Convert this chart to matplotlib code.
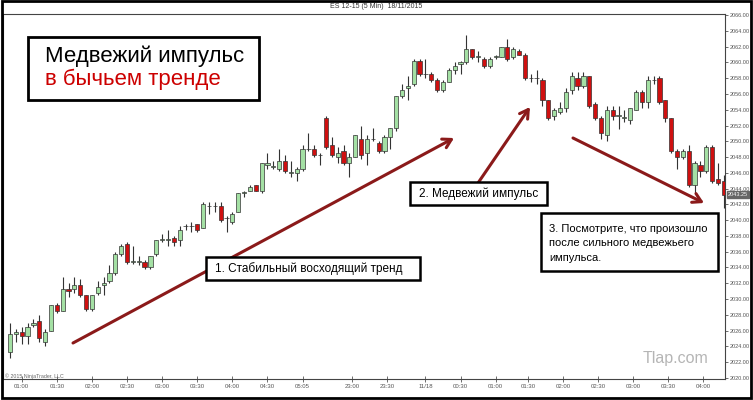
import numpy as np
import matplotlib.pyplot as plt
from matplotlib.patches import Rectangle
from matplotlib.transforms import blended_transform_factory

# ES 12-15, 5 min bars
opens = [2023.25, 2025.5, 2025.75, 2025.25, 2026.75, 2027.25, 2024.5, 2026.0, 2029.25, 2028.5,
         2031.25, 2031.25, 2031.75, 2030.5, 2028.75, 2030.75, 2031.75, 2032.25, 2033.25, 2035.75,
         2037.0, 2034.75, 2034.75, 2034.75, 2034.0, 2035.75, 2037.5, 2037.5, 2037.75, 2037.5,
         2039.25, 2039.25, 2039.5, 2039.0, 2041.75, 2041.75, 2041.75, 2040.25, 2039.75, 2041.0,
         2043.5, 2043.75, 2044.5, 2043.75, 2047.0, 2046.75, 2046.5, 2047.5, 2046.0, 2046.0,
         2046.5, 2049.0, 2049.0, 2048.25, 2053.0, 2049.5, 2048.0, 2048.75, 2047.25, 2048.0,
         2050.25, 2048.5, 2050.25, 2049.75, 2048.75, 2050.5, 2051.75, 2055.75, 2056.75, 2057.25,
         2060.25, 2058.5, 2058.5, 2057.75, 2056.5, 2057.5, 2059.0, 2059.75, 2060.0, 2061.75,
         2060.75, 2060.5, 2059.5, 2060.75, 2060.75, 2062.0, 2060.75, 2061.5, 2061.0, 2058.0,
         2058.0, 2057.75, 2055.25, 2053.25, 2053.75, 2054.25, 2056.5, 2058.0, 2057.0, 2058.25,
         2054.75, 2053.0, 2050.75, 2054.0, 2053.25, 2053.0, 2052.75, 2054.0, 2056.25, 2055.0,
         2057.75, 2058.0, 2055.25, 2053.0, 2048.75, 2048.0, 2048.75, 2044.5, 2047.0, 2046.25,
         2049.25, 2045.25, 2045.0]
highs = [2027.0, 2026.25, 2026.5, 2027.0, 2027.5, 2028.0, 2026.25, 2029.25, 2029.5, 2032.75,
         2032.0, 2032.75, 2032.5, 2030.5, 2030.5, 2032.25, 2032.75, 2034.25, 2036.0, 2037.0,
         2037.25, 2036.75, 2035.5, 2035.0, 2035.5, 2037.5, 2038.25, 2038.75, 2038.0, 2039.25,
         2039.5, 2039.75, 2039.5, 2042.25, 2042.25, 2042.25, 2042.25, 2040.5, 2041.0, 2043.5,
         2043.75, 2044.5, 2044.5, 2047.25, 2048.5, 2047.5, 2049.0, 2048.25, 2047.5, 2046.75,
         2049.5, 2051.0, 2049.5, 2048.5, 2053.25, 2050.5, 2049.25, 2049.5, 2048.5, 2050.75,
         2052.0, 2050.75, 2051.75, 2050.0, 2050.75, 2051.75, 2055.75, 2057.25, 2058.25, 2060.5,
         2060.5, 2060.5, 2058.75, 2058.0, 2057.75, 2059.25, 2060.0, 2060.25, 2063.5, 2061.75,
         2061.5, 2060.75, 2060.75, 2061.0, 2062.0, 2063.0, 2062.0, 2061.75, 2061.25, 2058.5,
         2059.0, 2058.0, 2055.25, 2054.25, 2055.0, 2056.75, 2058.75, 2058.75, 2058.75, 2058.25,
         2055.0, 2053.25, 2054.5, 2054.5, 2054.5, 2054.0, 2054.25, 2056.5, 2056.5, 2058.25,
         2058.25, 2058.25, 2055.25, 2053.0, 2049.0, 2049.0, 2049.5, 2047.5, 2047.5, 2049.5,
         2049.5, 2047.25, 2045.75]
lows = [2022.5, 2024.5, 2024.25, 2024.25, 2026.5, 2024.5, 2024.0, 2026.0, 2028.25, 2028.5,
        2030.25, 2030.75, 2030.25, 2028.5, 2028.5, 2030.5, 2030.5, 2032.0, 2033.0, 2035.5,
        2034.5, 2034.5, 2034.25, 2033.75, 2033.75, 2035.5, 2037.25, 2036.75, 2036.75, 2036.75,
        2038.75, 2038.5, 2038.5, 2039.0, 2040.75, 2041.0, 2039.75, 2038.5, 2039.5, 2041.0,
        2043.0, 2043.75, 2043.75, 2043.5, 2046.5, 2046.5, 2046.25, 2046.0, 2045.5, 2045.0,
        2046.25, 2048.75, 2048.0, 2047.0, 2049.0, 2048.0, 2047.25, 2047.0, 2045.5, 2048.0,
        2047.75, 2047.0, 2050.0, 2048.5, 2048.5, 2049.0, 2051.25, 2055.5, 2055.25, 2057.0,
        2058.25, 2058.0, 2057.5, 2056.25, 2056.25, 2057.5, 2058.5, 2058.5, 2059.75, 2060.5,
        2060.0, 2059.25, 2059.25, 2060.5, 2060.75, 2060.25, 2060.5, 2061.0, 2057.75, 2057.5,
        2057.25, 2054.5, 2052.75, 2052.75, 2053.5, 2053.75, 2056.0, 2056.5, 2056.75, 2054.25,
        2052.75, 2050.25, 2050.0, 2052.75, 2051.5, 2052.5, 2052.25, 2054.0, 2054.25, 2054.25,
        2057.25, 2054.75, 2052.5, 2048.5, 2046.5, 2047.75, 2044.25, 2043.5, 2045.5, 2046.0,
        2044.75, 2044.5, 2041.5]
closes = [2025.5, 2025.75, 2025.25, 2026.5, 2027.0, 2025.0, 2025.75, 2029.25, 2028.5, 2031.25,
          2031.0, 2031.75, 2030.5, 2028.75, 2030.5, 2031.5, 2032.0, 2033.25, 2035.75, 2036.75,
          2034.75, 2034.75, 2034.75, 2034.0, 2035.5, 2037.5, 2037.5, 2037.5, 2037.25, 2038.75,
          2039.25, 2039.25, 2038.75, 2042.0, 2041.75, 2041.75, 2040.0, 2040.25, 2040.75, 2043.5,
          2043.5, 2044.25, 2043.75, 2047.25, 2047.25, 2046.75, 2047.5, 2046.25, 2046.0, 2046.5,
          2049.0, 2049.0, 2048.25, 2048.25, 2049.25, 2048.25, 2048.5, 2047.25, 2048.0, 2050.75,
          2048.25, 2050.25, 2050.25, 2048.75, 2050.5, 2051.75, 2055.75, 2056.5, 2057.0, 2060.25,
          2058.5, 2058.5, 2057.75, 2056.5, 2057.5, 2059.0, 2059.5, 2060.0, 2061.75, 2060.75,
          2060.75, 2059.5, 2060.5, 2060.75, 2062.0, 2060.5, 2061.75, 2061.0, 2058.0, 2058.0,
          2058.0, 2055.25, 2053.0, 2054.0, 2054.25, 2056.25, 2058.25, 2057.0, 2058.25, 2054.5,
          2053.0, 2051.0, 2054.0, 2053.25, 2053.25, 2053.0, 2054.25, 2056.25, 2055.0, 2057.75,
          2057.75, 2055.0, 2053.0, 2048.75, 2048.0, 2048.75, 2044.5, 2047.25, 2046.25, 2049.25,
          2045.0, 2044.75, 2043.25]

time_ticks = [2, 8, 14, 20, 26, 32, 38, 44, 50, 58.5, 64.5, 71, 77, 83, 88.5, 94.5, 100.5, 106.5, 112.5, 118.5]
time_labels = ['01:00', '01:30', '02:00', '02:30', '03:00', '03:30', '04:00', '04:30', '05:05', '23:00',
               '23:30', '11/18', '00:30', '01:00', '01:30', '02:00', '02:30', '03:00', '03:30', '04:00']
price_ticks = np.arange(2020, 2067, 2)
last_price = 2043.25

o = np.array(opens)
h = np.array(highs)
l = np.array(lows)
c = np.array(closes)
x = np.arange(len(o))

W, H = 753, 400
fig = plt.figure(figsize=(W / 100, H / 100), dpi=100)
fig.patch.set_facecolor('white')
small = ['Liberation Sans', 'DejaVu Sans']

# plot area in pixels: left 3, right 725, top 14, bottom 379
ax = fig.add_axes([3 / W, 1 - 379 / H, (725 - 3) / W, (379 - 14) / H])
ax.set_xlim(-1.2, 122.2)
ax.set_ylim(2019.85, 2066.15)

up = c >= o
body_lo = np.minimum(o, c)
body_h = np.maximum(np.abs(c - o), 0.06)
ax.vlines(x, l, h, color='#333333', lw=0.8, zorder=2)
ax.bar(x[up], body_h[up], bottom=body_lo[up], width=0.72, color='#a4e0a4',
       edgecolor='#333333', linewidth=0.5, zorder=3)
ax.bar(x[~up], body_h[~up], bottom=body_lo[~up], width=0.72, color='#cf1010',
       edgecolor='#333333', linewidth=0.5, zorder=3)

ax.yaxis.tick_right()
ax.set_yticks(price_ticks)
ax.set_yticklabels([f'{v:.2f}' for v in price_ticks], family=small)
ax.tick_params(axis='y', direction='out', length=2.5, width=0.6, labelsize=4,
               colors='#555555', pad=1)
ax.set_xticks(time_ticks)
ax.set_xticklabels(time_labels, family=small)
ax.tick_params(axis='x', direction='inout', length=4, width=0.6, labelsize=4.3,
               colors='#555555', pad=1.5)
for s in ax.spines.values():
    s.set_color('#444444')
    s.set_linewidth(0.8)

# last price marker
tr = blended_transform_factory(ax.transAxes, ax.transData)
ax.text(1.004, last_price, f'{last_price:.2f}', transform=tr, fontsize=4, color='white',
        va='center', ha='left', family=small,
        bbox=dict(boxstyle='square,pad=0.15', fc='#666666', ec='#666666'))

fig.text(376 / W, 1 - 7 / H, 'ES 12-15 (5 Min)  18/11/2015', fontsize=5, color='#333333',
         ha='center', va='center', family=small)
fig.text(5 / W, 1 - 376 / H, '© 2015 NinjaTrader, LLC', fontsize=3.8, color='#666666',
         ha='left', va='center', family=small)

# overlay in pixel coordinates for the annotations
ov = fig.add_axes([0, 0, 1, 1], zorder=5)
ov.set_xlim(0, W)
ov.set_ylim(H, 0)
ov.axis('off')
ov.patch.set_alpha(0)

fam = ['Liberation Sans', 'DejaVu Sans']
dark_red = '#8b1a1a'

ov.add_patch(Rectangle((2, 1), 749, 397, fill=False, ec='black', lw=2))

ov.text(676, 358, 'Tlap.com', fontsize=11.5, color='#b5b5b5', ha='center', va='center', family=fam)

# arrows first, boxes on top of them
arrow = dict(arrowstyle='->,head_length=0.6,head_width=0.35', color=dark_red, lw=2.2,
             shrinkA=0, shrinkB=0)
ov.annotate('', xy=(454, 138), xytext=(73, 343), arrowprops=arrow, zorder=2)
ov.annotate('', xy=(530, 107), xytext=(478, 183), arrowprops=arrow, zorder=2)
ov.annotate('', xy=(704, 203), xytext=(573, 138), arrowprops=arrow, zorder=2)

ov.add_patch(Rectangle((28, 37), 231, 63, fc='white', ec='black', lw=2, zorder=4))
ov.text(45, 56, 'Медвежий импульс', fontsize=16, color='black', va='center', family=fam, zorder=5)
ov.text(45, 79, 'в бычьем тренде', fontsize=16, color='#cc0000', va='center', family=fam, zorder=5)

ov.add_patch(Rectangle((206, 257), 214, 23, fc='white', ec='black', lw=1.8, zorder=4))
ov.text(215, 269, '1. Стабильный восходящий тренд', fontsize=8.5, va='center', family=fam, zorder=5)

ov.add_patch(Rectangle((410, 182), 137, 23, fc='white', ec='black', lw=1.8, zorder=4))
ov.text(419, 194, '2. Медвежий импульс', fontsize=8.5, va='center', family=fam, zorder=5)

ov.add_patch(Rectangle((541, 213), 177, 58, fc='white', ec='black', lw=1.8, zorder=4))
ov.text(549, 229, '3. Посмотрите, что произошло', fontsize=8, va='center', family=fam, zorder=5)
ov.text(549, 243, 'после сильного медвежьего', fontsize=8, va='center', family=fam, zorder=5)
ov.text(549, 258, 'импульса.', fontsize=8, va='center', family=fam, zorder=5)

fig.savefig('out.png', dpi=100)
